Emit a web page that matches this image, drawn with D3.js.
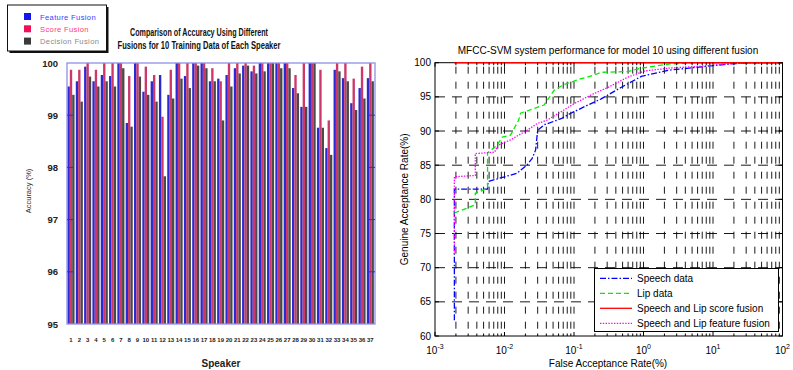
<!DOCTYPE html>
<html>
<head>
<meta charset="utf-8">
<script src="https://cdn.jsdelivr.net/npm/d3@7/dist/d3.min.js"></script>
<style>
body { margin: 0; background: #fff; }
svg { display: block; }
</style>
</head>
<body>
<script>
// ---- left chart: accuracy per speaker ----
const speakers = ["1","2","3","4","5","6","7","8","9","10","11","12","13","14","15","16","17","18","19",
    "20","21","22","23","24","25","26","27","28","29","30","31","32","33","34","35","36","37"];
const featureFusion = [99.55, 99.65, 99.93, 99.65, 99.77, 99.75, 100, 98.85, 100, 99.45, 99.65, 99.77, 99.39,
    100, 99.75, 100, 100, 99.65, 99.7, 99.77, 99.9, 99.95, 99.84, 100, 100, 100, 100, 99.52, 99.16, 100,
    98.76, 98.37, 99.87, 99.71, 99.23, 99.52, 99.71];
const scoreFusion = [99.87, 99.87, 100, 99.87, 100, 100, 100, 99.75, 100, 99.93, 99.77, 98.97, 99.87,
    100, 100, 100, 100, 99.9, 99.65, 100, 100, 100, 99.95, 100, 100, 100, 100, 99.77, 100, 100,
    99.87, 98.9, 100, 100, 99.7, 99.93, 100];
const decisionFusion = [99.39, 99.26, 99.74, 99.55, 99.65, 99.55, 99.9, 98.78, 99.74, 99.39, 99.26, 97.83, 99.32,
    99.7, 99.52, 99.95, 99.9, 99.65, 98.9, 99.55, 99.8, 99.95, 99.8, 99.84, 100, 99.9, 99.9, 99.42, 99.16, 100,
    98.76, 98.24, 99.84, 99.65, 99.1, 99.32, 99.65];
const accTicks = [95, 96, 97, 98, 99, 100];
const fusionNames = ["Feature Fusion", "Score Fusion", "Decision Fusion"];

// ---- right chart: ROC curves (FAR %, GAR %) ----
const speechFar = [1.9e-3, 1.9e-3, 5.7e-3, 5.8e-3, 1.0e-2, 1.5e-2, 2.1e-2, 2.5e-2, 2.8e-2, 3.0e-2, 3.7e-2,
    6.5e-2, 9e-2, 0.158, 0.246, 0.48, 0.93, 2.3, 6.9, 17, 33, 100];
const speechGar = [62.3, 81.5, 81.5, 82.6, 83.3, 83.8, 85.0, 86.0, 87.2, 90.1, 90.9,
    91.8, 92.6, 93.8, 94.7, 96.4, 98.0, 98.9, 99.4, 99.8, 100, 100];
const lipFar = [1.9e-3, 3.8e-3, 3.8e-3, 5.7e-3, 5.7e-3, 7.8e-3, 9.3e-3, 1.22e-2, 1.6e-2, 1.7e-2, 2.66e-2,
    3.7e-2, 5.2e-2, 7.2e-2, 0.113, 0.196, 0.246, 0.6, 0.93, 2.3, 5, 100];
const lipGar = [78.0, 79.2, 80.9, 81.6, 86.8, 87.9, 89.1, 89.4, 91.6, 92.6, 93.3,
    93.8, 96.0, 96.8, 97.5, 98.2, 98.6, 98.7, 99.2, 99.8, 100, 100];
const scoreFar = [1.9e-3, 100];
const scoreGar = [100, 100];
const featureFar = [1.9e-3, 1.9e-3, 3.8e-3, 3.8e-3, 7.2e-3, 8.0e-3, 1.22e-2, 2.1e-2, 2.98e-2, 4.1e-2, 6.5e-2,
    0.1, 0.177, 0.31, 0.6, 1.05, 2.3, 6.9, 21, 100];
const featureGar = [72, 83.3, 83.5, 86.7, 86.9, 87.9, 88.7, 90.1, 91.1, 91.6, 92.8,
    94.0, 95.3, 96.4, 97.9, 98.8, 99.2, 99.5, 99.9, 100];
const farTicks = [1e-3, 1e-2, 1e-1, 1, 10, 100];
const farExps = ["-3", "-2", "-1", "0", "1", "2"];
const garTicks = [60, 65, 70, 75, 80, 85, 90, 95, 100];
const rocNames = ["Speech data", "Lip data", "Speech and Lip score fusion", "Speech and Lip feature fusion"];

const narrow = "'Liberation Sans Narrow', 'Arial Narrow', 'Liberation Sans', sans-serif";
const sans = "'Liberation Sans', Arial, sans-serif";

const svg = d3.select("body").append("svg")
    .attr("width", 793)
    .attr("height", 370);

drawBars();
drawRoc();

function drawBars() {
    const left = 66.85, right = 374.5, top = 63, bottom = 324;
    const keys = ["feature", "score", "decision"];
    const colors = { feature: "#2a2ad2", score: "#cc3868", decision: "#4a4a4a" };
    const rows = speakers.map((s, i) => ({
        s: s, feature: featureFusion[i], score: scoreFusion[i], decision: decisionFusion[i]
    }));

    const x0 = d3.scaleBand().domain(speakers).range([left, right]).paddingInner(0.15).paddingOuter(0.075);
    const x1 = d3.scaleBand().domain(keys).range([0, x0.bandwidth()]);
    const y = d3.scaleLinear().domain([95, 100]).range([bottom, top]);

    // bars
    const g = svg.append("g");
    g.selectAll("g")
        .data(rows)
        .join("g")
        .attr("transform", d => "translate(" + x0(d.s) + ",0)")
        .selectAll("rect")
        .data(d => keys.map(k => ({ k: k, v: d[k] })))
        .join("rect")
        .attr("x", d => x1(d.k))
        .attr("y", d => y(d.v))
        .attr("width", x1.bandwidth())
        .attr("height", d => y(95) - y(d.v))
        .attr("fill", d => colors[d.k]);

    // frame and blue tick marks
    svg.append("rect")
        .attr("x", 67).attr("y", top)
        .attr("width", 308).attr("height", bottom - top)
        .attr("fill", "none")
        .attr("stroke", "#8f8fe8")
        .attr("stroke-width", 1.3);
    svg.append("g").selectAll("line")
        .data(accTicks.slice(1, 5))
        .join("line")
        .attr("x1", 67).attr("x2", 73)
        .attr("y1", d => y(d)).attr("y2", d => y(d))
        .attr("stroke", "#2a2ae0");
    svg.append("g").selectAll("line")
        .data(accTicks.slice(1, 5))
        .join("line")
        .attr("x1", 369).attr("x2", 375)
        .attr("y1", d => y(d)).attr("y2", d => y(d))
        .attr("stroke", "#2a2ae0");

    // y labels
    svg.append("g").selectAll("text")
        .data(accTicks)
        .join("text")
        .attr("x", 58)
        .attr("y", d => y(d) + 3.5)
        .attr("text-anchor", "end")
        .style("font-family", narrow)
        .style("font-weight", "bold")
        .style("font-size", "9.5px")
        .attr("fill", "#222")
        .text(d => d);

    // x labels
    svg.append("g").selectAll("text")
        .data(speakers)
        .join("text")
        .attr("x", d => x0(d) + x0.bandwidth() / 2)
        .attr("y", 341.5)
        .attr("text-anchor", "middle")
        .style("font-family", narrow)
        .style("font-weight", "bold")
        .style("font-size", "6px")
        .attr("fill", "#222")
        .text(d => d);

    svg.append("text")
        .attr("x", 221).attr("y", 367)
        .attr("text-anchor", "middle")
        .style("font-family", narrow)
        .style("font-weight", "bold")
        .style("font-size", "10px")
        .attr("fill", "#222")
        .text("Speaker");

    svg.append("text")
        .attr("transform", "translate(31,191) rotate(-90)")
        .attr("text-anchor", "middle")
        .style("font-family", sans)
        .style("font-size", "7.5px")
        .attr("fill", "#333")
        .text("Accuracy (%)");

    // title
    const titleLines = ["Comparison of Accuracy Using Different", "Fusions for 10 Training Data of Each Speaker"];
    const titleWidths = [138, 163];
    svg.append("g").selectAll("text")
        .data(titleLines)
        .join("text")
        .attr("x", 199)
        .attr("y", (d, i) => 36 + i * 13.3)
        .attr("text-anchor", "middle")
        .attr("textLength", (d, i) => titleWidths[i])
        .attr("lengthAdjust", "spacingAndGlyphs")
        .style("font-family", narrow)
        .style("font-weight", "bold")
        .style("font-size", "10.5px")
        .attr("fill", "#111")
        .text(d => d);

    // legend
    svg.append("rect")
        .attr("x", 9.5).attr("y", 7)
        .attr("width", 99).attr("height", 46)
        .attr("fill", "#111");
    svg.append("rect")
        .attr("x", 7.5).attr("y", 5)
        .attr("width", 99).attr("height", 46)
        .attr("fill", "#fff")
        .attr("stroke", "#111")
        .attr("stroke-width", 1);
    const legTextColors = ["#3d3dff", "#ff3a78", "#8a8a8a"];
    const legBoxColors = ["#1515ee", "#f0105a", "#3a3a3a"];
    const lg = svg.append("g").selectAll("g")
        .data(fusionNames)
        .join("g")
        .attr("transform", (d, i) => "translate(24," + (13 + i * 12.3) + ")");
    lg.append("rect")
        .attr("width", 7).attr("height", 7)
        .attr("fill", (d, i) => legBoxColors[i]);
    lg.append("text")
        .attr("x", 16).attr("y", 6.5)
        .style("font-family", sans)
        .style("font-size", "7.6px")
        .style("letter-spacing", "0.35px")
        .attr("fill", (d, i) => legTextColors[i])
        .text(d => d);
}

function drawRoc() {
    const left = 435, right = 782.5, top = 62.7, bottom = 336;
    const x = d3.scaleLog().domain([1e-3, 100]).range([left, right]);
    const y = d3.scaleLinear().domain([60, 100]).range([bottom, top]);

    // minor positions of the log axis
    const minor = [];
    farTicks.slice(0, 5).forEach(t => {
        for (let m = 1; m <= 9; m++) minor.push(t * m);
    });
    minor.push(100);

    svg.append("rect")
        .attr("x", left).attr("y", top)
        .attr("width", right - left).attr("height", bottom - top)
        .attr("fill", "#fff");

    // dashed grid
    svg.append("g").selectAll("line")
        .data(minor.filter(v => v > 1e-3 && v < 100))
        .join("line")
        .attr("x1", d => x(d)).attr("x2", d => x(d))
        .attr("y1", top).attr("y2", bottom)
        .attr("stroke", "#000")
        .attr("stroke-width", 0.9)
        .attr("stroke-dasharray", "7,8")
        .attr("stroke-dashoffset", -4);
    svg.append("g").selectAll("line")
        .data(garTicks.filter(v => v > 60 && v < 100))
        .join("line")
        .attr("x1", left).attr("x2", right)
        .attr("y1", d => y(d)).attr("y2", d => y(d))
        .attr("stroke", "#000")
        .attr("stroke-width", 0.9)
        .attr("stroke-dasharray", "10,7");

    // curves
    const line = d3.line().x(d => x(d[0])).y(d => y(d[1]));
    const series = [
        { far: speechFar, gar: speechGar, color: "#0000ff", dash: "6,2,1.5,2" },
        { far: lipFar, gar: lipGar, color: "#00ee00", dash: "5,3" },
        { far: featureFar, gar: featureGar, color: "#ff00ff", dash: "1.4,1.4" },
        { far: scoreFar, gar: scoreGar, color: "#ff0000", dash: null }
    ];
    svg.append("g").selectAll("path")
        .data(series)
        .join("path")
        .attr("d", d => line(d3.zip(d.far, d.gar)))
        .attr("fill", "none")
        .attr("stroke", d => d.color)
        .attr("stroke-width", 1.3)
        .attr("stroke-dasharray", d => d.dash);

    // frame
    svg.append("rect")
        .attr("x", left).attr("y", top)
        .attr("width", right - left).attr("height", bottom - top)
        .attr("fill", "none")
        .attr("stroke", "#000")
        .attr("stroke-width", 1);
    svg.append("line")
        .attr("x1", x(1.9e-3)).attr("x2", right)
        .attr("y1", y(100)).attr("y2", y(100))
        .attr("stroke", "#ff0000")
        .attr("stroke-width", 1.3);

    // ticks on the frame
    const tk = svg.append("g").attr("stroke", "#000");
    minor.forEach(v => {
        const len = farTicks.includes(v) ? 4 : 2.5;
        tk.append("line").attr("x1", x(v)).attr("x2", x(v)).attr("y1", bottom).attr("y2", bottom - len);
        tk.append("line").attr("x1", x(v)).attr("x2", x(v)).attr("y1", top).attr("y2", top + len);
    });
    garTicks.forEach(v => {
        tk.append("line").attr("x1", left).attr("x2", left + 4).attr("y1", y(v)).attr("y2", y(v));
        tk.append("line").attr("x1", right).attr("x2", right - 4).attr("y1", y(v)).attr("y2", y(v));
    });

    // tick labels
    svg.append("g").selectAll("text")
        .data(garTicks)
        .join("text")
        .attr("x", left - 4)
        .attr("y", d => y(d) + 3.6)
        .attr("text-anchor", "end")
        .style("font-family", sans)
        .style("font-size", "10px")
        .text(d => d);
    const xl = svg.append("g").selectAll("text")
        .data(farTicks)
        .join("text")
        .attr("x", d => x(d))
        .attr("y", 354)
        .attr("text-anchor", "middle")
        .style("font-family", sans)
        .style("font-size", "10px");
    xl.append("tspan").text("10");
    xl.append("tspan")
        .attr("dy", -5)
        .style("font-size", "7px")
        .text((d, i) => farExps[i]);

    // titles
    svg.append("text")
        .attr("x", 608).attr("y", 54)
        .attr("text-anchor", "middle")
        .style("font-family", sans)
        .style("font-size", "10px")
        .text("MFCC-SVM system performance for model 10 using different fusion");
    svg.append("text")
        .attr("x", 608).attr("y", 367)
        .attr("text-anchor", "middle")
        .style("font-family", sans)
        .style("font-size", "10px")
        .text("False Acceptance Rate(%)");
    svg.append("text")
        .attr("transform", "translate(408," + (top + bottom) / 2 + ") rotate(-90)")
        .attr("text-anchor", "middle")
        .style("font-family", sans)
        .style("font-size", "10px")
        .text("Genuine Acceptance Rate(%)");

    // legend
    svg.append("rect")
        .attr("x", 594.5).attr("y", 268.5)
        .attr("width", 184).attr("height", 63)
        .attr("fill", "#fff")
        .attr("stroke", "#000")
        .attr("stroke-width", 1);
    const legOrder = [series[0], series[1], series[3], series[2]];
    const lg = svg.append("g").selectAll("g")
        .data(rocNames)
        .join("g")
        .attr("transform", (d, i) => "translate(600," + (278.3 + i * 15) + ")");
    lg.append("line")
        .attr("x1", 0).attr("x2", 32)
        .attr("stroke", (d, i) => legOrder[i].color)
        .attr("stroke-width", 1.3)
        .attr("stroke-dasharray", (d, i) => legOrder[i].dash);
    lg.append("text")
        .attr("x", 37).attr("y", 3.6)
        .style("font-family", sans)
        .style("font-size", "10px")
        .text(d => d);
}
</script>
</body>
</html>
